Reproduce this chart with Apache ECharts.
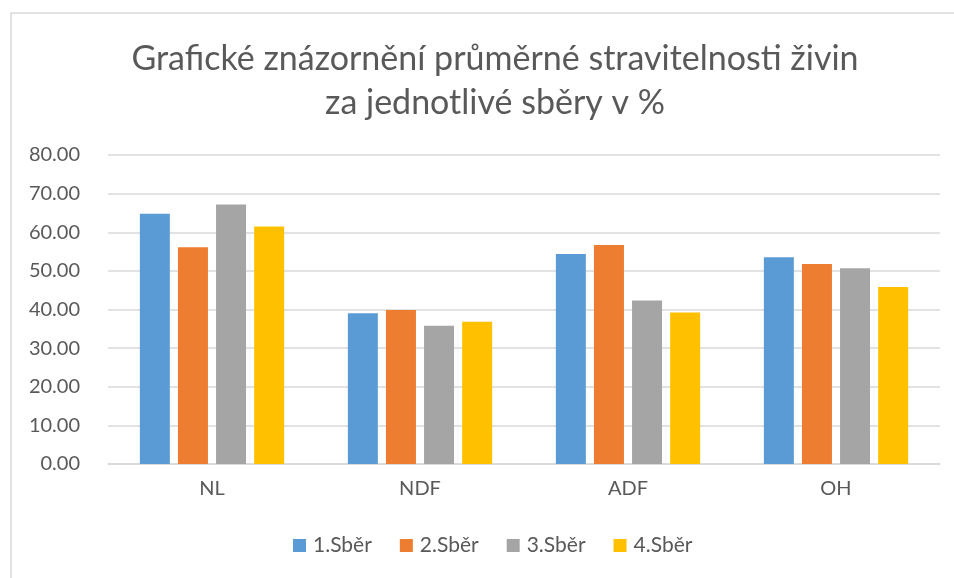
<!DOCTYPE html>
<html>
<head>
<meta charset="utf-8">
<script src="https://cdn.jsdelivr.net/npm/echarts@6/dist/echarts.min.js"></script>
<style>html,body{margin:0;padding:0;background:#fff;}#c{width:954px;height:578px;}</style>
</head>
<body>
<div id="c"></div>
<script>
const categories = ['NL', 'NDF', 'ADF', 'OH'];
const seriesNames = ['1.Sběr', '2.Sběr', '3.Sběr', '4.Sběr'];
const sber1 = [64.8, 39.0, 54.4, 53.5];
const sber2 = [56.1, 39.9, 56.7, 51.8];
const sber3 = [67.2, 35.8, 42.3, 50.7];
const sber4 = [61.5, 36.8, 39.2, 45.8];
const colors = ['#5b9bd5', '#ed7d31', '#a5a5a5', '#ffc000'];
const values = [sber1, sber2, sber3, sber4];

const FONT = 'Lato';
const chart = echarts.init(document.getElementById('c'));
chart.setOption({
  animation: false,
  backgroundColor: '#fff',
  textStyle: { fontFamily: FONT },
  graphic: [{
    type: 'rect', left: 8.5, top: 10.5,
    shape: { width: 1000, height: 1000 },
    style: { fill: 'none', stroke: '#d9d9d9', lineWidth: 1.5 },
    silent: true
  }],
  title: {
    text: 'Grafické znázornění průměrné stravitelnosti živin\nza jednotlivé sběry v %',
    left: 490, top: 32, textAlign: 'center',
    textStyle: { fontFamily: FONT, fontSize: 34, fontWeight: 'normal', color: '#595959', lineHeight: 44 }
  },
  legend: {
    bottom: 17, left: 288,
    itemWidth: 13, itemHeight: 13, itemGap: 28,
    icon: 'rect',
    textStyle: { fontFamily: FONT, fontSize: 21, color: '#595959', padding: [0, 0, 0, 2] },
    data: seriesNames
  },
  grid: { left: 108, right: 14, top: 155, bottom: 114 },
  xAxis: {
    type: 'category', data: categories,
    axisLine: { lineStyle: { color: '#d9d9d9', width: 1.5 } },
    axisTick: { show: false },
    axisLabel: { fontFamily: FONT, fontSize: 20, color: '#595959', margin: 15 }
  },
  yAxis: {
    type: 'value', min: 0, max: 80, interval: 10,
    axisLine: { show: false }, axisTick: { show: false },
    splitLine: { lineStyle: { color: '#d9d9d9', width: 1.5 } },
    axisLabel: { fontFamily: FONT, fontSize: 20, color: '#595959', margin: 28,
      formatter: v => v.toFixed(2) }
  },
  series: seriesNames.map((n, i) => ({
    name: n, type: 'bar', data: values[i],
    barWidth: 30, barGap: '27%',
    itemStyle: { color: colors[i] }
  }))
});
</script>
</body>
</html>
